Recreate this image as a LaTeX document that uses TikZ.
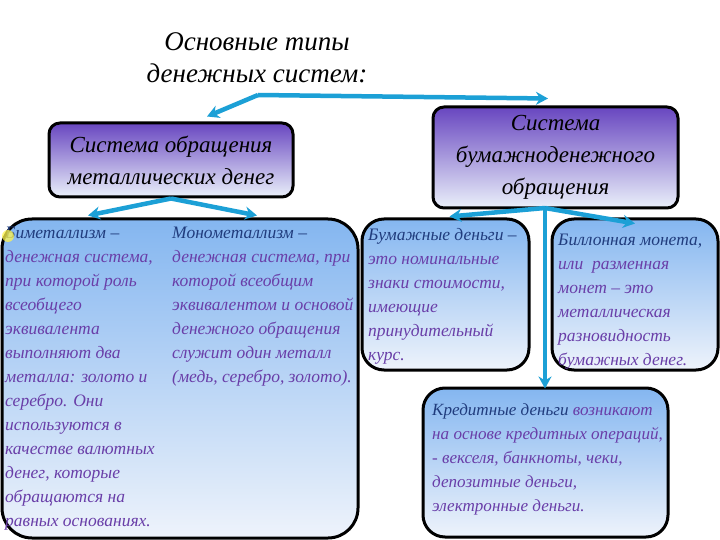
\documentclass[tikz,border=0pt]{standalone}
\usepackage{fontspec}
\setmainfont{Liberation Serif}
\usetikzlibrary{arrows.meta}
\definecolor{arrc}{RGB}{28,160,214}
\definecolor{hdrtop}{RGB}{104,70,192}
\definecolor{hdrbot}{RGB}{234,240,250}
\definecolor{boxtop}{RGB}{132,182,240}
\definecolor{boxbot}{RGB}{238,243,251}
\definecolor{txtblue}{RGB}{32,60,125}
\definecolor{txtpurp}{RGB}{105,62,168}
\begin{document}
\begin{tikzpicture}[x=1pt,y=-1pt,
  hdrbox/.style={draw=black, line width=3pt, rounded corners=11pt, top color=hdrtop, bottom color=hdrbot, inner sep=0pt, align=center, font=\itshape\fontsize{23}{32}\selectfont},
  infobox/.style={draw=black, line width=3pt, rounded corners=22pt, top color=boxtop, bottom color=boxbot, inner sep=0pt},
  bodytext/.style={anchor=north west, inner sep=0pt, align=left, text=txtpurp, font=\itshape\fontsize{17.5}{24}\selectfont},
  arr/.style={draw=arrc, line width=4.5pt, -{Stealth[length=12pt,width=13pt]}}]
\useasboundingbox (0,0) rectangle (720,540);
\clip (0,0) rectangle (720,540);
\fill[white] (0,0) rectangle (720,540);

% title
\node[align=center, font=\itshape\fontsize{27}{32}\selectfont, inner sep=0pt] (title) at (257,58) {Основные типы\\денежных систем:};

% header boxes
\node[hdrbox, minimum width=244pt, minimum height=74pt] (hdrL) at (171,160) {Система обращения\\металлических денег};
\node[hdrbox, minimum width=245pt, minimum height=101pt] (hdrR) at (555.5,157.5) {Система\\бумажноденежного\\обращения};

% info boxes
\node[infobox, minimum width=356pt, minimum height=319pt, rounded corners=30pt] (metal) at (180,378.5) {};
\node[infobox, minimum width=167pt, minimum height=151pt] (paper) at (445.5,294.5) {};
\node[infobox, minimum width=166pt, minimum height=151pt] (billon) at (635,294.5) {};
\node[infobox, minimum width=245pt, minimum height=149pt] (credit) at (545.5,462.5) {};

% texts
\node[bodytext] (bimtext) at (5,227) {\textcolor{txtblue}{Биметаллизм –}\\денежная система,\\при которой роль\\всеобщего\\эквивалента\\выполняют два\\металла: золото и\\серебро. Они\\используются в\\качестве валютных\\денег, которые\\обращаются на\\равных основаниях.};
\fill[yellow!70!white, opacity=0.75] (8,236) circle (6pt);
\node[bodytext] (montext) at (172,227) {\textcolor{txtblue}{Монометаллизм –}\\денежная система, при\\которой всеобщим\\эквивалентом и основой\\денежного обращения\\служит один металл\\(медь, серебро, золото).};
\node[bodytext] (paptext) at (368,228) {\textcolor{txtblue}{Бумажные деньги –}\\это номинальные\\знаки стоимости,\\имеющие\\принудительный\\курс.};
\node[bodytext] (biltext) at (558,234) {\textcolor{txtblue}{Биллонная монета,}\\или \ разменная\\монет – это\\металлическая\\разновидность\\бумажных денег.};
\node[bodytext, font=\itshape\fontsize{17.1}{24}\selectfont] (cretext) at (432,403) {\textcolor{txtblue}{Кредитные деньги} возникают\\на основе кредитных операций,\\- векселя, банкноты, чеки,\\депозитные деньги,\\электронные деньги.};

% connectors
\coordinate (tsplit) at (258,95);
\coordinate (lsplit) at (hdrL.south);
\coordinate (rsplit) at (545,208);
\draw[arr] (tsplit) -- ([xshift=36pt,yshift=5pt]hdrL.north);
\draw[arr] (tsplit) -- ([xshift=-7.5pt,yshift=7pt]hdrR.north);
\draw[arr] (lsplit) -- ([xshift=-92pt,yshift=2pt]metal.north);
\draw[arr] (lsplit) -- ([xshift=77pt,yshift=2pt]metal.north);
\draw[arr] (rsplit) -- ([xshift=4pt,yshift=1pt]paper.north);
\draw[arr] (rsplit) -- ([yshift=-6pt]billon.north);
\draw[arr] (rsplit) -- ([xshift=-0.5pt,yshift=-2pt]credit.north);
\end{tikzpicture}
\end{document}
